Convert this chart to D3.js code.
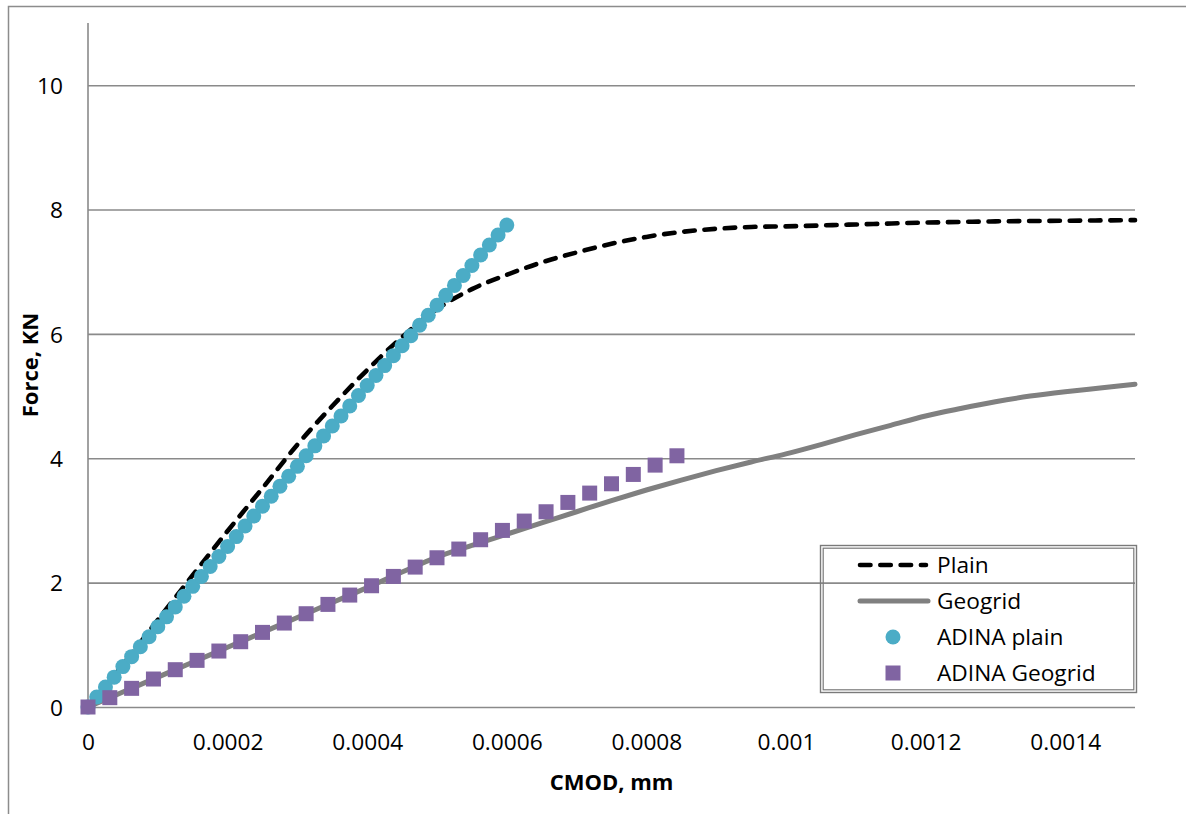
<!DOCTYPE html>
<html>
<head>
<meta charset="utf-8">
<script src="https://cdn.jsdelivr.net/npm/d3@7"></script>
<style>
  html, body { margin: 0; padding: 0; background: #fff; }
  svg { display: block; font-family: "Open Sans", "Liberation Sans", sans-serif; }
</style>
</head>
<body>
<svg id="chart" width="1186" height="814"></svg>
<script>
// Force vs. CMOD: test curves (Plain, Geogrid) and ADINA model results.
const plainCmod = [0, 0.00005, 0.0001, 0.00015, 0.0002, 0.00025, 0.0003, 0.00035, 0.0004, 0.00045,
  0.0005, 0.00055, 0.0006, 0.00065, 0.0007, 0.00075, 0.0008, 0.00085, 0.0009, 0.00095,
  0.001, 0.0011, 0.0012, 0.0013, 0.0014, 0.0015];
const plainForce = [0, 0.68, 1.40, 2.12, 2.83, 3.52, 4.22, 4.84, 5.42, 5.95,
  6.40, 6.72, 6.95, 7.15, 7.31, 7.45, 7.56, 7.64, 7.69, 7.72,
  7.73, 7.76, 7.79, 7.81, 7.82, 7.83];

const geogridCmod = [0, 0.00005, 0.0001, 0.00015, 0.0002, 0.00025, 0.0003, 0.00035, 0.0004, 0.00045,
  0.0005, 0.00055, 0.0006, 0.00065, 0.0007, 0.00075, 0.0008, 0.00085, 0.0009, 0.00095,
  0.001, 0.00105, 0.0011, 0.00115, 0.0012, 0.00125, 0.0013, 0.00135, 0.0014, 0.00145, 0.0015];
const geogridForce = [0, 0.24, 0.48, 0.72, 0.96, 1.20, 1.44, 1.68, 1.92, 2.17,
  2.41, 2.60, 2.78, 2.96, 3.14, 3.32, 3.49, 3.65, 3.80, 3.94,
  4.07, 4.22, 4.38, 4.53, 4.68, 4.80, 4.91, 5.00, 5.07, 5.13, 5.19];

const adinaPlainCmod = [0, 0.0000125, 0.000025, 0.0000375, 0.00005, 0.0000625, 0.000075, 0.0000875,
  0.0001, 0.0001125, 0.000125, 0.0001375, 0.00015, 0.0001625, 0.000175, 0.0001875,
  0.0002, 0.0002125, 0.000225, 0.0002375, 0.00025, 0.0002625, 0.000275, 0.0002875,
  0.0003, 0.0003125, 0.000325, 0.0003375, 0.00035, 0.0003625, 0.000375, 0.0003875,
  0.0004, 0.0004125, 0.000425, 0.0004375, 0.00045, 0.0004625, 0.000475, 0.0004875,
  0.0005, 0.0005125, 0.000525, 0.0005375, 0.00055, 0.0005625, 0.000575, 0.0005875, 0.0006];
const adinaPlainForce = [0, 0.16, 0.32, 0.48, 0.65, 0.81, 0.97, 1.13,
  1.29, 1.45, 1.61, 1.78, 1.94, 2.10, 2.26, 2.42,
  2.58, 2.74, 2.91, 3.07, 3.23, 3.39, 3.55, 3.71,
  3.87, 4.04, 4.20, 4.36, 4.52, 4.68, 4.84, 5.01,
  5.17, 5.33, 5.49, 5.65, 5.81, 5.97, 6.14, 6.30,
  6.46, 6.62, 6.78, 6.94, 7.10, 7.27, 7.43, 7.59, 7.75];

const adinaGeogridCmod = [0, 0.00003125, 0.0000625, 0.00009375, 0.000125, 0.00015625, 0.0001875,
  0.00021875, 0.00025, 0.00028125, 0.0003125, 0.00034375, 0.000375, 0.00040625,
  0.0004375, 0.00046875, 0.0005, 0.00053125, 0.0005625, 0.00059375, 0.000625,
  0.00065625, 0.0006875, 0.00071875, 0.00075, 0.00078125, 0.0008125, 0.00084375];
const adinaGeogridForce = [0, 0.15, 0.30, 0.45, 0.60, 0.75, 0.90,
  1.05, 1.20, 1.35, 1.50, 1.65, 1.80, 1.95,
  2.10, 2.25, 2.40, 2.54, 2.69, 2.84, 2.99,
  3.14, 3.29, 3.44, 3.59, 3.74, 3.89, 4.04];

const xTicks = [0, 0.0002, 0.0004, 0.0006, 0.0008, 0.001, 0.0012, 0.0014];
const yTicks = [0, 2, 4, 6, 8, 10];
const legendLabels = ["Plain", "Geogrid", "ADINA plain", "ADINA Geogrid"];

const xTitle = "CMOD, mm";
const yTitle = "Force, KN";

const svg = d3.select("#chart");
const gridColor = "#8a8a8a";
const fontSize = 22.7;

const plot = { left: 88, right: 1135, top: 23, bottom: 707 };

const x = d3.scaleLinear().domain([0, 0.0015]).range([plot.left, plot.right]);
const y = d3.scaleLinear().domain([0, 11]).range([plot.bottom, plot.top]);

// chart area frame (only left and top edges fall inside the page)
svg.append("rect")
  .attr("x", 8.5).attr("y", 6.5)
  .attr("width", 1300).attr("height", 900)
  .attr("fill", "none").attr("stroke", "#8c8c8c").attr("stroke-width", 1.5);

// horizontal gridlines + y tick labels
const yAxis = svg.append("g")
  .attr("transform", `translate(${plot.left},0)`)
  .call(d3.axisLeft(y).tickValues(yTicks).tickSize(-(plot.right - plot.left)).tickPadding(25)
    .tickFormat(d3.format("d")));
yAxis.select(".domain").remove();
yAxis.selectAll(".tick line").attr("stroke", gridColor).attr("stroke-width", 1.6);
yAxis.selectAll(".tick text")
  .attr("font-size", fontSize).attr("fill", "#000")
  .attr("font-family", "'Open Sans', sans-serif")
  .attr("dy", "0.36em");

// vertical axis line
svg.append("line")
  .attr("x1", plot.left).attr("x2", plot.left)
  .attr("y1", plot.top).attr("y2", plot.bottom)
  .attr("stroke", gridColor).attr("stroke-width", 1.6);

// x tick labels
const fmtX = d => d === 0 ? "0" : String(+d.toFixed(6));
const xAxis = svg.append("g")
  .attr("transform", `translate(0,${plot.bottom})`)
  .call(d3.axisBottom(x).tickValues(xTicks).tickSize(0).tickFormat(fmtX));
xAxis.select(".domain").remove();
xAxis.selectAll(".tick text")
  .attr("font-size", fontSize).attr("fill", "#000")
  .attr("font-family", "'Open Sans', sans-serif")
  .attr("y", 43).attr("dy", 0);

// axis titles
svg.append("text")
  .attr("x", (plot.left + plot.right) / 2).attr("y", 790)
  .attr("text-anchor", "middle")
  .attr("font-size", 22).attr("font-weight", "bold")
  .text(xTitle);
svg.append("text")
  .attr("transform", `translate(38,${(plot.top + plot.bottom) / 2}) rotate(-90)`)
  .attr("text-anchor", "middle")
  .attr("font-size", 22).attr("font-weight", "bold")
  .text(yTitle);

// series
const line = d3.line().x(d => x(d[0])).y(d => y(d[1])).curve(d3.curveMonotoneX);

const plainData = d3.zip(plainCmod, plainForce);
const geogridData = d3.zip(geogridCmod, geogridForce);
const adinaPlainData = d3.zip(adinaPlainCmod, adinaPlainForce);
const adinaGeogridData = d3.zip(adinaGeogridCmod, adinaGeogridForce);

const plainStyle = { stroke: "#000", width: 4.6, dash: "10.5 9.8" };
const geogridStyle = { stroke: "#808080", width: 5 };
const circleColor = "#4bacc6";
const squareColor = "#8064a2";
const markerSize = 15;

svg.append("path")
  .datum(plainData)
  .attr("d", line)
  .attr("fill", "none")
  .attr("stroke", plainStyle.stroke).attr("stroke-width", plainStyle.width)
  .attr("stroke-dasharray", plainStyle.dash).attr("stroke-linecap", "round");

svg.append("path")
  .datum(geogridData)
  .attr("d", line)
  .attr("fill", "none")
  .attr("stroke", geogridStyle.stroke).attr("stroke-width", geogridStyle.width)
  .attr("stroke-linecap", "round");

svg.append("g").selectAll("circle")
  .data(adinaPlainData)
  .join("circle")
  .attr("cx", d => x(d[0])).attr("cy", d => y(d[1]))
  .attr("r", markerSize / 2)
  .attr("fill", circleColor);

svg.append("g").selectAll("rect")
  .data(adinaGeogridData)
  .join("rect")
  .attr("x", d => x(d[0]) - markerSize / 2).attr("y", d => y(d[1]) - markerSize / 2)
  .attr("width", markerSize).attr("height", markerSize)
  .attr("fill", squareColor);

// legend (no fill, double frame)
const lg = svg.append("g");
const lgBox = { x: 820.5, y: 545.5, w: 316, h: 147 };
lg.append("rect")
  .attr("x", lgBox.x).attr("y", lgBox.y).attr("width", lgBox.w).attr("height", lgBox.h)
  .attr("fill", "none").attr("stroke", "#7a7a7a").attr("stroke-width", 1.4);
lg.append("rect")
  .attr("x", lgBox.x + 2.7).attr("y", lgBox.y + 2.7).attr("width", lgBox.w - 5.4).attr("height", lgBox.h - 5.4)
  .attr("fill", "none").attr("stroke", "#7a7a7a").attr("stroke-width", 1.2);

const rowY = i => 565 + i * 36;
const symX0 = 860, symX1 = 926, symXc = 893, textX = 937;

legendLabels.forEach((label, i) => {
  const cy = rowY(i);
  if (i === 0) {
    lg.append("line").attr("x1", symX0).attr("x2", symX1).attr("y1", cy).attr("y2", cy)
      .attr("stroke", plainStyle.stroke).attr("stroke-width", plainStyle.width)
      .attr("stroke-dasharray", plainStyle.dash).attr("stroke-linecap", "round");
  } else if (i === 1) {
    lg.append("line").attr("x1", symX0).attr("x2", symX1 + 2).attr("y1", cy).attr("y2", cy)
      .attr("stroke", geogridStyle.stroke).attr("stroke-width", geogridStyle.width)
      .attr("stroke-linecap", "round");
  } else if (i === 2) {
    lg.append("circle").attr("cx", symXc).attr("cy", cy).attr("r", markerSize / 2).attr("fill", circleColor);
  } else {
    lg.append("rect").attr("x", symXc - markerSize / 2).attr("y", cy - markerSize / 2)
      .attr("width", markerSize).attr("height", markerSize).attr("fill", squareColor);
  }
  lg.append("text")
    .attr("x", textX).attr("y", cy).attr("dy", "0.36em")
    .attr("font-size", fontSize).attr("fill", "#000")
    .text(label);
});
</script>
</body>
</html>
